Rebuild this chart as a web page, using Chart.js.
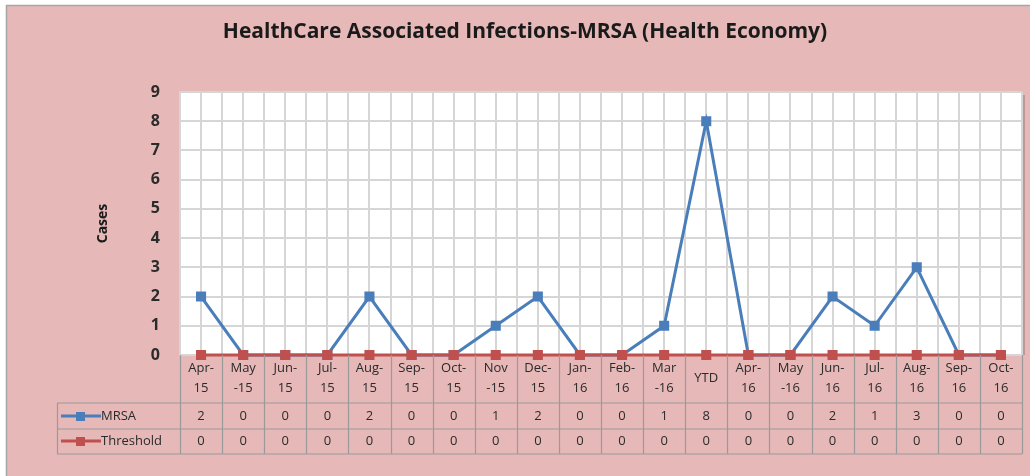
<!DOCTYPE html>
<html>
<head>
<meta charset="utf-8">
<script src="https://cdn.jsdelivr.net/npm/chart.js@4/dist/chart.umd.min.js"></script>
<style>
  html, body { margin: 0; padding: 0; background: #ffffff; }
  #wrap { width: 1030px; height: 476px; position: relative; }
</style>
</head>
<body>
<div id="wrap"><canvas id="hcaiChart" width="1030" height="476"></canvas></div>
<script>
// months shown as two-line labels like the spreadsheet does
const months = [
  ["Apr-", "15"], ["May", "-15"], ["Jun-", "15"], ["Jul-", "15"], ["Aug-", "15"],
  ["Sep-", "15"], ["Oct-", "15"], ["Nov", "-15"], ["Dec-", "15"], ["Jan-", "16"],
  ["Feb-", "16"], ["Mar", "-16"], "YTD", ["Apr-", "16"], ["May", "-16"],
  ["Jun-", "16"], ["Jul-", "16"], ["Aug-", "16"], ["Sep-", "16"], ["Oct-", "16"]
];
const mrsaCases = [2, 0, 0, 0, 2, 0, 0, 1, 2, 0, 0, 1, 8, 0, 0, 2, 1, 3, 0, 0];
const thresholdCases = [0, 0, 0, 0, 0, 0, 0, 0, 0, 0, 0, 0, 0, 0, 0, 0, 0, 0, 0, 0];
const yTicks = [0, 1, 2, 3, 4, 5, 6, 7, 8, 9];
const chartTitle = "HealthCare Associated Infections-MRSA (Health Economy)";

const PINK = "#e6b8b7";
const BLUE = "#4a7ebb";
const RED = "#c0504d";
const GRID = "#d6d6d6";
const TABLE_LINE = "#9a9a9a";
const TEXT = "#2b2b2b";
const FONT = "'Open Sans', 'Liberation Sans', sans-serif";

const frame = {
  id: "frame",
  beforeDraw(chart) {
    const { ctx, chartArea: a } = chart;
    ctx.save();
    ctx.fillStyle = PINK;
    ctx.fillRect(6, 5, chart.width - 6, chart.height - 5);
    ctx.strokeStyle = "#a6a6a6";
    ctx.lineWidth = 1.5;
    ctx.beginPath();
    ctx.moveTo(6.5, chart.height);
    ctx.lineTo(6.5, 5.5);
    ctx.lineTo(chart.width, 5.5);
    ctx.stroke();
    // title
    ctx.fillStyle = "#1a1a1a";
    ctx.font = "bold 21px " + FONT;
    ctx.textAlign = "center";
    ctx.textBaseline = "middle";
    ctx.fillText(chartTitle, 525, 32);
    // white plot area with a little shadow on the right
    ctx.fillStyle = "rgba(120,90,90,0.35)";
    ctx.fillRect(a.right, a.top + 3, 3, a.bottom - a.top - 3);
    ctx.fillStyle = "#ffffff";
    ctx.fillRect(a.left, a.top, a.right - a.left, a.bottom - a.top);
    ctx.restore();
  },
  beforeDatasetsDraw(chart) {
    // extra vertical grid lines through the middle of each month
    const { ctx, chartArea: a, scales } = chart;
    ctx.save();
    ctx.strokeStyle = GRID;
    ctx.lineWidth = 2;
    months.forEach((m, i) => {
      const x = Math.round(scales.x.getPixelForValue(i));
      ctx.beginPath();
      ctx.moveTo(x, a.top);
      ctx.lineTo(x, a.bottom);
      ctx.stroke();
    });
    ctx.restore();
  }
};

const dataTable = {
  id: "dataTable",
  afterDraw(chart) {
    const { ctx, chartArea: a, scales } = chart;
    const xs = scales.x;
    const colW = (a.right - a.left) / months.length;
    const rowTop = 403, rowMid = 429, rowBottom = 454, keyLeft = 57;
    ctx.save();
    ctx.strokeStyle = TABLE_LINE;
    ctx.lineWidth = 1.2;
    ctx.beginPath();
    for (let i = 0; i <= months.length; i++) {
      const x = Math.round(a.left + i * colW) + 0.5;
      ctx.moveTo(x, a.bottom);
      ctx.lineTo(x, rowBottom);
    }
    ctx.moveTo(keyLeft, rowTop); ctx.lineTo(a.right, rowTop);
    ctx.moveTo(keyLeft, rowMid); ctx.lineTo(a.right, rowMid);
    ctx.moveTo(keyLeft, rowBottom); ctx.lineTo(a.right, rowBottom);
    ctx.moveTo(keyLeft + 0.5, rowTop); ctx.lineTo(keyLeft + 0.5, rowBottom);
    ctx.stroke();

    const rows = [
      { label: "MRSA", color: BLUE, values: mrsaCases, y: 416 },
      { label: "Threshold", color: RED, values: thresholdCases, y: 441 }
    ];
    ctx.textBaseline = "middle";
    rows.forEach(r => {
      // legend key
      ctx.strokeStyle = r.color;
      ctx.lineWidth = 3;
      ctx.beginPath();
      ctx.moveTo(61, r.y);
      ctx.lineTo(101, r.y);
      ctx.stroke();
      ctx.fillStyle = r.color;
      ctx.fillRect(76, r.y - 4, 9, 9);
      ctx.fillStyle = TEXT;
      ctx.font = "13px " + FONT;
      ctx.textAlign = "left";
      ctx.fillText(r.label, 101, r.y);
      ctx.textAlign = "center";
      r.values.forEach((v, i) => {
        ctx.fillText(String(v), xs.getPixelForValue(i), r.y);
      });
    });
    ctx.restore();
  }
};

new Chart("hcaiChart", {
  type: "line",
  data: {
    labels: months,
    datasets: [
      {
        label: "MRSA",
        data: mrsaCases,
        borderColor: BLUE,
        backgroundColor: BLUE,
        borderWidth: 3,
        pointStyle: "rect",
        pointRadius: 5,
        pointHoverRadius: 5,
        tension: 0,
        order: 2,
      },
      {
        label: "Threshold",
        data: thresholdCases,
        borderColor: RED,
        backgroundColor: RED,
        borderWidth: 3,
        pointStyle: "rect",
        pointRadius: 5,
        pointHoverRadius: 5,
        tension: 0,
        order: 1,
      },
    ],
  },
  options: {
    responsive: false,
    animation: false,
    clip: false,
    layout: { padding: { left: 0, right: 8, top: 92, bottom: 21 } },
    plugins: {
      legend: { display: false },
      tooltip: { enabled: false },
      title: { display: false },
    },
    scales: {
      x: {
        type: "category",
        offset: true,
        grid: { offset: true, color: GRID, lineWidth: 2, drawTicks: false },
        border: { display: false },
        ticks: {
          autoSkip: false,
          maxRotation: 0,
          padding: 13,
          crossAlign: "center",
          color: TEXT,
          font: { family: FONT, size: 13, lineHeight: 1.54 },
        },
        afterFit(scale) { scale.height = 100; },
      },
      y: {
        min: 0,
        max: 9,
        afterBuildTicks(scale) { scale.ticks = yTicks.map(v => ({ value: v })); },
        grid: { color: GRID, lineWidth: 2, drawTicks: false },
        border: { display: true, color: GRID, width: 2 },
        ticks: {
          padding: 20,
          color: TEXT,
          font: { family: FONT, size: 16, weight: "bold" },
        },
        title: {
          display: true,
          text: "Cases",
          color: "#1a1a1a",
          font: { family: FONT, size: 14, weight: "bold" },
          padding: { top: 95, bottom: 0 },
        },
        afterFit(scale) { scale.width = 180; },
      },
    },
  },
  plugins: [frame, dataTable],
});
</script>
</body>
</html>
